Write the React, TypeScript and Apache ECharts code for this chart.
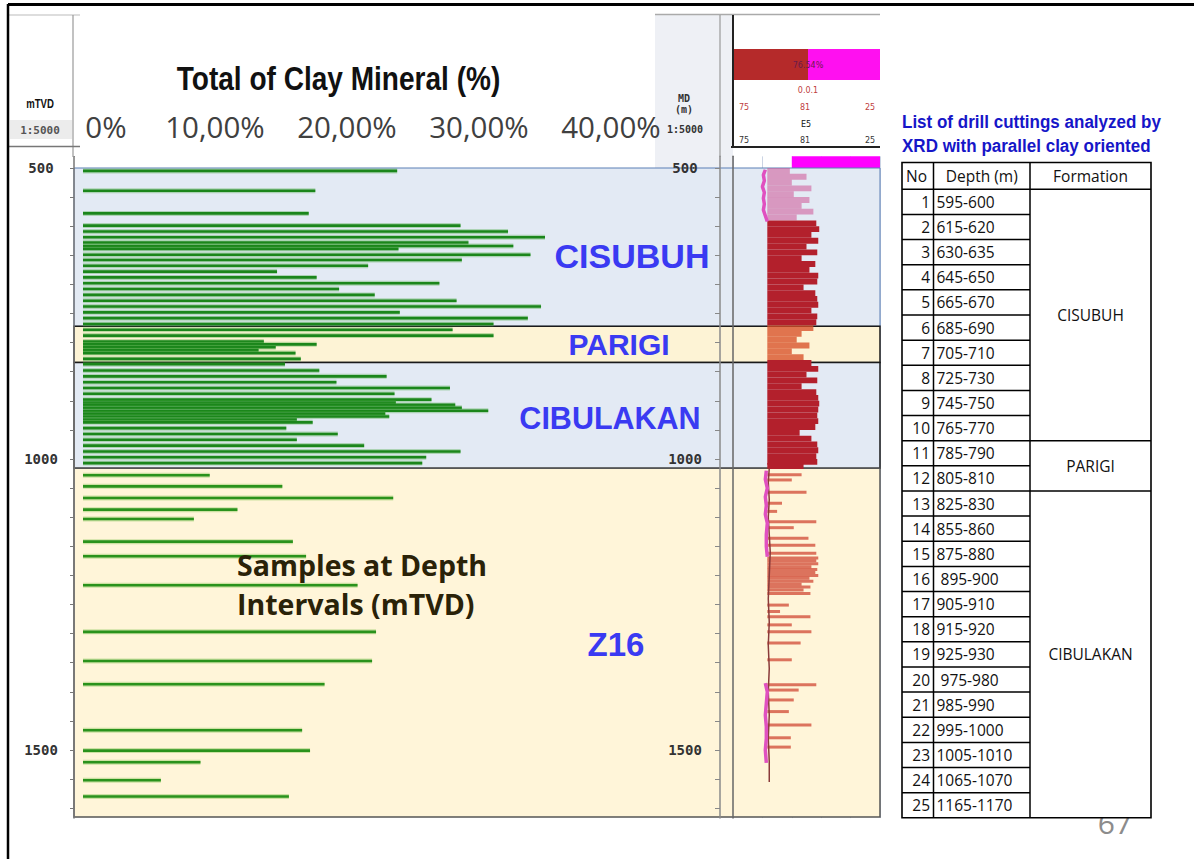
import React, { useEffect, useRef } from "react";
import * as echarts from "echarts";

// ---------------- Data ----------------
// Clay samples: depth (mTVD) and total clay mineral (%)
const sampleDepths = [
  505, 539, 578, 599, 609, 619, 628, 634, 639, 649, 658, 668, 678, 688, 698, 708, 718, 728, 738, 748,
  758, 768, 778, 788, 798, 803, 808, 813, 818, 828, 837, 848, 858, 868, 878, 888, 898, 903, 907, 912,
  917, 922, 927, 932, 937, 947, 957, 967, 977, 987, 997, 1007, 1028, 1047, 1067, 1087, 1103, 1142, 1167, 1217,
  1297, 1347, 1387, 1466, 1501, 1521, 1552, 1580,
];
const clayPercent = [
  23.8, 17.6, 17.1, 28.6, 32.2, 35.0, 29.2, 32.6, 23.9, 33.9, 28.7, 21.6, 14.7, 17.7, 27.0, 19.4, 22.1, 28.3, 34.7, 24.0,
  33.7, 31.1, 28.0, 31.1, 13.7, 17.7, 14.6, 13.3, 16.1, 16.5, 15.3, 17.9, 23.0, 19.2, 27.8, 23.6, 26.4, 23.7, 28.2, 28.7,
  30.7, 22.9, 23.2, 16.2, 17.4, 15.4, 19.3, 16.2, 21.3, 28.6, 26.0, 25.7, 9.6, 15.1, 23.5, 11.7, 8.4, 15.9, 16.9, 20.8,
  22.2, 21.9, 18.3, 16.6, 17.2, 8.9, 5.9, 15.6,
];
const clayTicks = [0, 10, 20, 30, 40];
const depthLabels = [500, 1000, 1500];
const depthTicks = [500, 550, 600, 650, 700, 750, 800, 850, 900, 950, 1000, 1050, 1100, 1150, 1200, 1250, 1300, 1350, 1400, 1450, 1500, 1550, 1600];

// Formations
const formationNames = ["CISUBUH", "PARIGI", "CIBULAKAN", "Z16"];
const formationTop = [500, 772, 834, 1016];
const formationBase = [772, 834, 1016, 1615];

// Well log track (upper section, 10 m bins)
const logDepths = [
  505, 515, 525, 535, 545, 555, 565, 575, 585, 595, 605, 615, 625, 635, 645, 655, 665, 675, 685, 695,
  705, 715, 725, 735, 745, 755, 765, 775, 785, 795, 805, 815, 825, 835, 845, 855, 865, 875, 885, 895,
  905, 915, 925, 935, 945, 955, 965, 975, 985, 995, 1005, 1012,
];
const logValues = [
  58, 75, 60, 80, 62, 78, 70, 82, 65, 85, 88, 80, 87, 75, 86, 70, 84, 78, 87, 86,
  72, 84, 86, 87, 80, 86, 85, 82, 70, 65, 78, 60, 72, 80, 87, 75, 86, 70, 85, 87,
  88, 87, 86, 87, 84, 68, 80, 86, 87, 85, 86, 72,
];
// Well log track, Z16 spikes
const spikeDepths = [
  1027, 1036, 1057, 1076, 1090, 1108, 1118, 1136, 1148, 1162, 1170, 1175, 1180, 1185, 1190, 1195, 1200, 1205, 1210, 1215,
  1220, 1225, 1231, 1251, 1262, 1271, 1285, 1297, 1316, 1345, 1388, 1397, 1414, 1434, 1457, 1479, 1495,
];
const spikeValues = [
  70, 60, 75, 50, 45, 85, 62, 77, 84, 85, 87, 85, 87, 80, 86, 84, 87, 78, 82, 70,
  79, 72, 79, 57, 48, 79, 60, 80, 69, 60, 85, 67, 62, 57, 80, 59, 59,
];
const baseDepths = [1016, 1040, 1070, 1100, 1130, 1160, 1200, 1240, 1280, 1320, 1360, 1400, 1440, 1480, 1520, 1555];
const baseValues = [37, 36, 37, 36, 37, 38, 37, 36, 37, 36, 37, 36, 37, 36, 37, 37];
const pinkDepths = [503, 512, 522, 532, 542, 552, 562, 572, 582, 592, 1010, 1020, 1035, 1050, 1065, 1080, 1095, 1110, 1130, 1150, 1168, 1300, 1385, 1400, 1420, 1440, 1460, 1480, 1500, 1522];
const pinkValues = [33, 31, 32, 30, 32, 31, 32, 31, 33, 35, null, 34, 33, 35, 33, 34, 33, 35, 34, 34, 35, null, 33, 35, 34, 33, 34, 34, 33, 34];

// Table
const tableNo = [1, 2, 3, 4, 5, 6, 7, 8, 9, 10, 11, 12, 13, 14, 15, 16, 17, 18, 19, 20, 21, 22, 23, 24, 25];
const tableDepths = [
  "595-600", "615-620", "630-635", "645-650", "665-670", "685-690", "705-710", "725-730", "745-750", "765-770",
  "785-790", "805-810", "825-830", "855-860", "875-880", " 895-900", "905-910", "915-920", "925-930", " 975-980",
  "985-990", "995-1000", "1005-1010", "1065-1070", "1165-1170",
];
const tableFormations = ["CISUBUH", "PARIGI", "CIBULAKAN"];
const tableFormationRows = [10, 2, 13];

// ---------------- Layout / style ----------------
const TOP = 156.36;
const H = 661.74;
const DMIN = 480;
const DMAX = 1617;

const zoneFill = ["#e3eaf4", "#fdf3d5", "#e3eaf4", "#fff5d9"];
const zoneStroke = ["#5a7fb5", "#1a1a1a", "#1a1a1a", "#555555"];
const zoneStrokeW = [1, 1.5, 1.5, 1.5];

function logColor(d: number): string {
  if (d < 590) return "rgba(205,70,140,0.5)";
  if (d < formationTop[1]) return "#b3202c";
  if (d < formationTop[2]) return "rgba(215,80,40,0.78)";
  if (d < formationTop[3]) return "#b3202c";
  return "rgba(205,60,40,0.7)";
}

function buildTable(): any[] {
  const els: any[] = [];
  const X0 = 902, X1 = 933.5, X2 = 1030, X3 = 1151;
  const Y0 = 162.5, YH = 189.3, RH = 25.14;
  const YB = YH + RH * tableNo.length;
  const font = { fontFamily: "'Open Sans', sans-serif", fontSize: 15.5, fill: "#111" };
  const line = (x1: number, y1: number, x2: number, y2: number) => ({
    type: "line", z: 52, shape: { x1, y1, x2, y2 }, style: { stroke: "#000", lineWidth: 1.5 },
  });
  els.push({ type: "rect", z: 50, shape: { x: X0, y: Y0, width: X3 - X0, height: YB - Y0 }, style: { fill: "#fff", stroke: "#000", lineWidth: 1.6 } });
  els.push(line(X1, Y0, X1, YB));
  els.push(line(X2, Y0, X2, YB));
  els.push(line(X0, YH, X3, YH));
  const bounds: number[] = [];
  let acc = 0;
  tableFormationRows.forEach((n) => { acc += n; bounds.push(acc); });
  for (let i = 1; i < tableNo.length; i++) {
    const y = YH + RH * i;
    els.push(line(X0, y, bounds.includes(i) ? X3 : X2, y));
  }
  els.push({ type: "text", z: 53, x: 906, y: (Y0 + YH) / 2, style: { ...font, text: "No", align: "left", verticalAlign: "middle" } });
  els.push({ type: "text", z: 53, x: (X1 + X2) / 2, y: (Y0 + YH) / 2, style: { ...font, text: "Depth (m)", align: "center", verticalAlign: "middle" } });
  els.push({ type: "text", z: 53, x: (X2 + X3) / 2, y: (Y0 + YH) / 2, style: { ...font, text: "Formation", align: "center", verticalAlign: "middle" } });
  tableNo.forEach((n, i) => {
    const cy = YH + RH * (i + 0.5);
    els.push({ type: "text", z: 53, x: 930, y: cy, style: { ...font, text: String(n), align: "right", verticalAlign: "middle" } });
    els.push({ type: "text", z: 53, x: 936.5, y: cy, style: { ...font, text: tableDepths[i], align: "left", verticalAlign: "middle" } });
  });
  let start = 0;
  tableFormations.forEach((name, k) => {
    const n = tableFormationRows[k];
    const cy = YH + RH * (start + n / 2);
    els.push({ type: "text", z: 53, x: (X2 + X3) / 2, y: cy, style: { ...font, text: name, align: "center", verticalAlign: "middle" } });
    start += n;
  });
  return els;
}

function buildOption(): any {
  const yCommon = { type: "value", inverse: true, min: DMIN, max: DMAX, splitLine: { show: false } };
  const depthFmt = (v: number) => String(v);
  const tiny = (text: string, x: number, y: number, fill: string) => ({
    type: "text", z: 12, x, y, style: { text, fill, fontSize: 8, fontFamily: "'DejaVu Sans', sans-serif", align: "center", verticalAlign: "middle" },
  });
  const zoneLabel = (text: string, x: number, y: number, size: number) => ({
    type: "text", z: 10, x, y,
    style: { text, fill: "#3a3af2", fontSize: size, fontWeight: "bold", fontFamily: "'Liberation Sans', Arial, sans-serif", align: "center", verticalAlign: "middle" },
  });
  const gline = (x1: number, y1: number, x2: number, y2: number, stroke: string, lineWidth: number, z = 101) => ({
    type: "line", z, shape: { x1, y1, x2, y2 }, style: { stroke, lineWidth },
  });

  return {
    animation: false,
    backgroundColor: "#ffffff",
    grid: [
      { left: 74, width: 806, top: TOP, height: H },
      { left: 83, width: 528, top: TOP, height: H },
      { left: 655, width: 65, top: TOP, height: H },
      { left: 733, width: 147, top: TOP, height: H },
    ],
    xAxis: [
      { gridIndex: 0, type: "value", min: 0, max: 1, show: false },
      {
        gridIndex: 1, type: "value", min: 0, max: 40, interval: 10, position: "top",
        axisLine: { show: false, onZero: false }, axisTick: { show: false }, splitLine: { show: false },
        axisLabel: {
          show: true, showMinLabel: true, showMaxLabel: true, margin: 15,
          customValues: clayTicks,
          formatter: (v: number) => (v === 0 ? "{first|0%}" : v.toFixed(2).replace(".", ",") + "%"),
          rich: {
            first: { padding: [0, 0, 0, 46], color: "#404040", fontSize: 29.5, fontFamily: "'Open Sans', sans-serif" },
          },
          color: "#404040", fontSize: 29.5, fontFamily: "'Open Sans', sans-serif",
        },
      },
      { gridIndex: 2, type: "value", min: 0, max: 1, show: false },
      {
        gridIndex: 3, type: "value", min: 0, max: 150, interval: 30,
        axisLine: { show: false, onZero: false }, axisTick: { show: false }, axisLabel: { show: false },
        splitLine: { show: true, lineStyle: { color: "rgba(140,160,195,0.45)", width: 1 } },
      },
    ],
    yAxis: [
      {
        ...yCommon, gridIndex: 0, position: "left", z: 5,
        axisLine: { show: true, onZero: false, lineStyle: { color: "#777", width: 1.5 } },
        axisTick: { show: true, customValues: depthTicks, length: 4, lineStyle: { color: "#777" } },
        axisLabel: {
          show: true, customValues: depthLabels, align: "center", margin: 33, formatter: depthFmt,
          color: "#333", fontSize: 14, fontWeight: "bold", fontFamily: "'DejaVu Sans Mono', monospace",
        },
      },
      { ...yCommon, gridIndex: 1, show: false },
      {
        ...yCommon, gridIndex: 2, position: "right", z: 5,
        axisLine: { show: true, onZero: false, lineStyle: { color: "#8a8a8a", width: 1.5 } },
        axisTick: { show: true, inside: true, customValues: depthTicks, length: 5, lineStyle: { color: "#888" } },
        axisLabel: {
          show: true, inside: true, customValues: depthLabels, align: "center", margin: 35, formatter: depthFmt,
          color: "#333", fontSize: 14, fontWeight: "bold", fontFamily: "'DejaVu Sans Mono', monospace",
        },
      },
      {
        ...yCommon, gridIndex: 3, position: "left", z: 5,
        axisLine: { show: true, onZero: false, lineStyle: { color: "#666", width: 1.5 } },
        axisTick: { show: false }, axisLabel: { show: false },
      },
    ],
    series: [
      {
        name: "Formations", type: "custom", xAxisIndex: 0, yAxisIndex: 0, z: 1,
        data: formationNames.map((n, i) => [i, formationTop[i], formationBase[i]]),
        renderItem: (params: any, api: any) => {
          const i = api.value(0);
          const p0 = api.coord([0, api.value(1)]);
          const p1 = api.coord([1, api.value(2)]);
          return {
            type: "rect",
            shape: { x: p0[0], y: p0[1], width: p1[0] - p0[0], height: p1[1] - p0[1] },
            style: { fill: zoneFill[i], stroke: zoneStroke[i], lineWidth: zoneStrokeW[i] },
          };
        },
      },
      {
        name: "Total clay mineral", type: "custom", xAxisIndex: 1, yAxisIndex: 1, z: 4,
        data: sampleDepths.map((d, i) => [clayPercent[i], d]),
        renderItem: (params: any, api: any) => {
          const p0 = api.coord([0, api.value(1)]);
          const p1 = api.coord([api.value(0), api.value(1)]);
          const w = p1[0] - p0[0];
          const deep = api.value(1) > formationTop[3];
          return {
            type: "group",
            children: [
              { type: "rect", shape: { x: p0[0], y: p0[1] - 2.5, width: w, height: 5 }, style: { fill: deep ? "rgba(110,190,60,0.35)" : "rgba(70,170,60,0.35)" } },
              { type: "rect", shape: { x: p0[0], y: p0[1] - 1.3, width: w, height: 2.6 }, style: { fill: deep ? "#2a921c" : "#1b861b" } },
            ],
          };
        },
      },
      {
        name: "Log", type: "custom", xAxisIndex: 3, yAxisIndex: 3, z: 3,
        data: logDepths.map((d, i) => [logValues[i], d]),
        renderItem: (params: any, api: any) => {
          const d = api.value(1);
          const p0 = api.coord([35, d - 5]);
          const p1 = api.coord([api.value(0), d + 5]);
          return {
            type: "rect",
            shape: { x: p0[0], y: p0[1], width: p1[0] - p0[0], height: p1[1] - p0[1] },
            style: { fill: logColor(d) },
          };
        },
        markArea: {
          silent: true,
          itemStyle: { color: "#ff00ff" },
          data: [[{ xAxis: 60, yAxis: DMIN }, { xAxis: 150, yAxis: 500 }]],
        },
      },
      {
        name: "Log spikes", type: "custom", xAxisIndex: 3, yAxisIndex: 3, z: 3,
        data: spikeDepths.map((d, i) => [spikeValues[i], d]),
        renderItem: (params: any, api: any) => {
          const d = api.value(1);
          const p0 = api.coord([35, d]);
          const p1 = api.coord([api.value(0), d]);
          return {
            type: "rect",
            shape: { x: p0[0], y: p0[1] - 1.5, width: p1[0] - p0[0], height: 3 },
            style: { fill: logColor(d) },
          };
        },
      },
      {
        name: "Log baseline", type: "line", xAxisIndex: 3, yAxisIndex: 3, z: 3,
        showSymbol: false, data: baseDepths.map((d, i) => [baseValues[i], d]),
        lineStyle: { color: "#8a3a3a", width: 1.5 },
      },
      {
        name: "Pink curve", type: "line", xAxisIndex: 3, yAxisIndex: 3, z: 3,
        showSymbol: false, connectNulls: false, data: pinkDepths.map((d, i) => [pinkValues[i], d]),
        lineStyle: { color: "#e050c0", width: 3.5 },
      },
    ],
    graphic: {
      elements: [
        // slide frame
        gline(8, 4.5, 1194, 4.5, "#000", 3, 200),
        gline(8, 4, 8, 859, "#000", 2.5, 200),
        // left depth column header
        { type: "rect", z: 100, shape: { x: 9.5, y: 6.5, width: 73, height: 149.5 }, style: { fill: "#fff" } },
        gline(9, 15, 80, 15, "#bbb", 1),
        gline(73, 15, 73, 157, "#999", 1.2),
        gline(9, 146.5, 80, 146.5, "#777", 1.5),
        { type: "rect", z: 101, shape: { x: 10, y: 120, width: 62, height: 19 }, style: { fill: "#ececec" } },
        { type: "text", z: 102, x: 40, y: 104, scaleX: 0.8, style: { text: "mTVD", fill: "#111", fontSize: 12, fontWeight: "bold", fontFamily: "'Liberation Sans', sans-serif", align: "center", verticalAlign: "middle" } },
        { type: "text", z: 102, x: 40, y: 130, style: { text: "1:5000", fill: "#555", fontSize: 11, fontWeight: "bold", fontFamily: "'DejaVu Sans Mono', monospace", align: "center", verticalAlign: "middle" } },
        // MD header
        { type: "rect", z: -1, shape: { x: 655, y: 15, width: 78, height: 153 }, style: { fill: "#eef0f5" } },
        gline(655, 14.5, 880, 14.5, "#aaa", 1.5, 11),
        gline(720, 15, 720, 157, "#999", 1.2, 11),
        gline(733, 15, 733, 148, "#222", 2, 11),
        gline(731, 147, 880, 147, "#222", 2, 11),
        { type: "text", z: 12, x: 684, y: 98, style: { text: "MD", fill: "#333", fontSize: 10, fontWeight: "bold", fontFamily: "'DejaVu Sans Mono', monospace", align: "center", verticalAlign: "middle" } },
        { type: "text", z: 12, x: 684, y: 109, style: { text: "(m)", fill: "#333", fontSize: 10, fontWeight: "bold", fontFamily: "'DejaVu Sans Mono', monospace", align: "center", verticalAlign: "middle" } },
        { type: "text", z: 12, x: 685, y: 129, style: { text: "1:5000", fill: "#333", fontSize: 10, fontWeight: "bold", fontFamily: "'DejaVu Sans Mono', monospace", align: "center", verticalAlign: "middle" } },
        // log header
        { type: "rect", z: 11, shape: { x: 734, y: 49, width: 74, height: 31 }, style: { fill: "#b52a2a" } },
        { type: "rect", z: 11, shape: { x: 808, y: 49, width: 72, height: 31 }, style: { fill: "#ff10f0" } },
        tiny("76.54%", 808, 65, "#6a1a4a"),
        tiny("0.0.1", 808, 90, "#c04040"),
        tiny("75", 744, 107, "#c04040"), tiny("81", 805, 107, "#c04040"), tiny("25", 870, 107, "#c04040"),
        tiny("E5", 806, 124, "#111"),
        tiny("75", 744, 140, "#333"), tiny("81", 805, 140, "#333"), tiny("25", 870, 140, "#333"),
        // chart title
        { type: "text", z: 10, x: 338.5, y: 78, scaleX: 0.85, style: { text: "Total of Clay Mineral (%)", fill: "#111", fontSize: 33, fontWeight: "bold", fontFamily: "'Liberation Sans', Arial, sans-serif", align: "center", verticalAlign: "middle" } },
        // formation labels
        zoneLabel("CISUBUH", 632, 256, 34),
        zoneLabel("PARIGI", 619, 344, 30),
        zoneLabel("CIBULAKAN", 610, 418, 30.5),
        zoneLabel("Z16", 616, 644, 33),
        // annotation
        { type: "text", z: 10, x: 237, y: 565, style: { text: "Samples at Depth", fill: "#2a2208", fontSize: 28.5, fontWeight: "bold", fontFamily: "'Open Sans', sans-serif", align: "left", verticalAlign: "middle" } },
        { type: "text", z: 10, x: 237, y: 604, style: { text: "Intervals (mTVD)", fill: "#2a2208", fontSize: 28.5, fontWeight: "bold", fontFamily: "'Open Sans', sans-serif", align: "left", verticalAlign: "middle" } },
        // table title
        { type: "text", z: 10, x: 902, y: 122, scaleX: 0.92, style: { text: "List of drill cuttings analyzed by", fill: "#1616c8", fontSize: 18.5, fontWeight: "bold", fontFamily: "'Liberation Sans', Arial, sans-serif", align: "left", verticalAlign: "middle" } },
        { type: "text", z: 10, x: 902, y: 146, scaleX: 0.92, style: { text: "XRD with parallel clay oriented", fill: "#1616c8", fontSize: 18.5, fontWeight: "bold", fontFamily: "'Liberation Sans', Arial, sans-serif", align: "left", verticalAlign: "middle" } },
        // page number (partly hidden by the table)
        { type: "text", z: 40, x: 1115, y: 822, style: { text: "67", fill: "#8c8c8c", fontSize: 30, fontFamily: "'Open Sans', sans-serif", align: "center", verticalAlign: "middle" } },
        ...buildTable(),
      ],
    },
  };
}

export default function App() {
  const ref = useRef<HTMLDivElement>(null);
  useEffect(() => {
    if (!ref.current) return;
    const chart = echarts.init(ref.current, null, { renderer: "svg" });
    chart.setOption(buildOption());
    return () => chart.dispose();
  }, []);
  return (
    <div
      ref={ref}
      style={{ position: "fixed", left: 0, top: 0, width: 1194, height: 859, background: "#fff" }}
    />
  );
}
